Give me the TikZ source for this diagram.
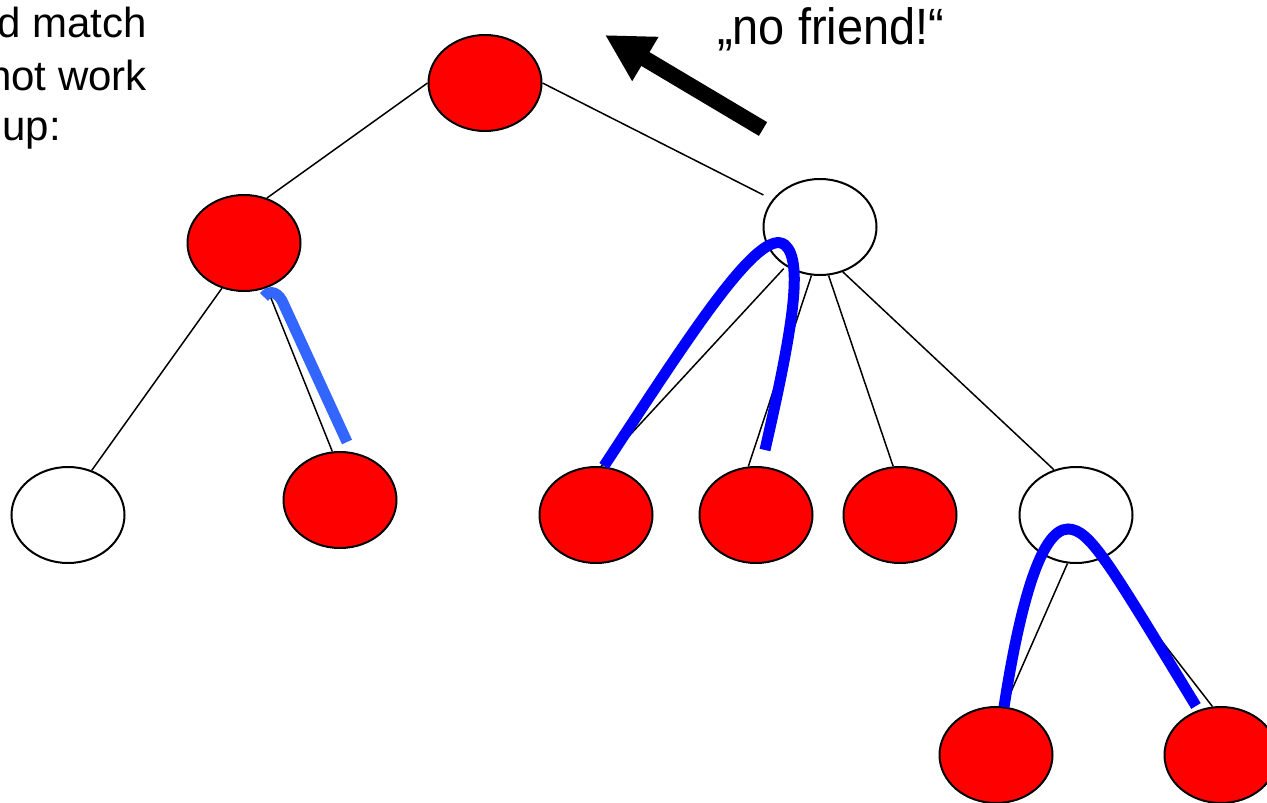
\documentclass[tikz,border=0pt]{standalone}
\usepackage{fontspec}
\setmainfont{Liberation Sans}
\newfontfamily\narrowsans[FakeStretch=0.92]{Liberation Sans}
\usetikzlibrary{shapes.geometric,arrows.meta}
\definecolor{nodered}{RGB}{255,0,0}
\definecolor{pathblue}{RGB}{0,0,255}
\definecolor{lightpath}{RGB}{51,102,255}
\begin{document}
\begin{tikzpicture}[x=1pt,y=-1pt,
  tn/.style={ellipse, draw=black, line width=2pt, minimum width=113pt, minimum height=96pt, inner sep=0pt},
  rednode/.style={tn, fill=nodered},
  whitenode/.style={tn, fill=white},
  edge/.style={draw=black, line width=1.5pt},
  trail/.style={draw=pathblue, line width=11pt},
  trailLight/.style={draw=lightpath, line width=11pt},
  bigarrow/.style={draw=black, line width=16pt, -{Triangle[length=47pt,width=48pt]}},
  lbl/.style={inner sep=0pt, font=\fontsize{42}{50}\selectfont}
]
\useasboundingbox (0,0) rectangle (1267,803);
\clip (0,0) rectangle (1267,803);

% nodes
\node[rednode]   (root) at (485,83)  {};
\node[rednode]   (L)    at (244,243) {};
\node[whitenode] (R)    at (820,227) {};
\node[whitenode] (LL)   at (68,515)  {};
\node[rednode]   (LR)   at (340,500) {};
\node[rednode]   (c1)   at (596,515) {};
\node[rednode]   (c2)   at (756,515) {};
\node[rednode]   (c3)   at (900,515) {};
\node[whitenode] (c4)   at (1076,515) {};
\node[rednode]   (d1)   at (996,755) {};
\node[rednode]   (d2)   at (1221,755) {};

% edges
\draw[edge] (root.180) -- (L.63);
\draw[edge, shorten >=10pt] (root.0) -- (R.150);
\draw[edge] (L.244) -- (LL.62);
\draw[edge] (L.297) -- (LR.99);
\draw[edge, shorten <=3pt] (R.229) -- (c1.84);
\draw[edge] (R.260) -- (c2.99);
\draw[edge] (R.280) -- (c3.98);
\draw[edge] (R.297) -- (c4.116);
\draw[edge] (c4.260) -- (d1.80);
\draw[edge] (c4.297) -- (d2.100);

% blue trails
\coordinate (t1a) at (264,297);
\coordinate (t1b) at (347,442);
\draw[trailLight] (t1a) .. controls (270,289) and (279,292) .. (284,305) -- (t1b);

\coordinate (t2a) at (604,466);
\coordinate (t2b) at (765,450);
\draw[trail] (t2a) .. controls (690,335) and (760,225) .. (785,245)
  .. controls (805,262) and (790,340) .. (t2b);

\coordinate (t3a) at (1004,707);
\coordinate (t3b) at (1196,706);
\draw[trail] (t3a) .. controls (1019,610) and (1040,529) .. (1068,529)
  .. controls (1090,529) and (1110,565) .. (t3b);

% arrow
\coordinate (aS) at (763,129);
\coordinate (aT) at (605,35);
\draw[bigarrow] (aS) -- (aT);

% texts
\node[lbl, anchor=base west, font=\narrowsans\fontsize{51}{60}\selectfont] (nf) at (717,45) {„no friend!“};
\node[lbl, anchor=base east] (t1) at (147,37) {d match};
\node[lbl, anchor=base east] (t2) at (147,90) {not work};
\node[lbl, anchor=base east] (t3) at (61,140) {up:};
\end{tikzpicture}
\end{document}
